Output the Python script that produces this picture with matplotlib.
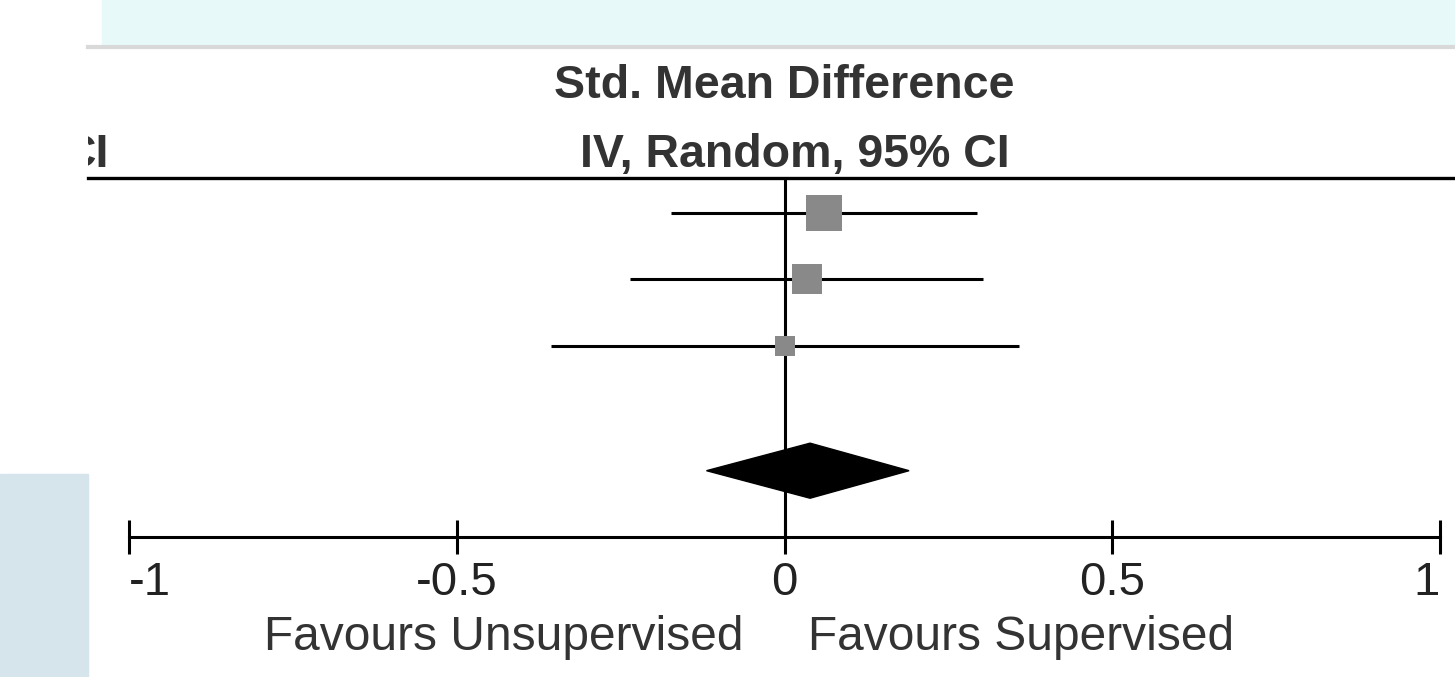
import numpy as np
import matplotlib
matplotlib.use("Agg")
import matplotlib.pyplot as plt
from matplotlib.patches import Rectangle, Polygon
from matplotlib.lines import Line2D
from matplotlib.transforms import Bbox, TransformedBbox

# study rows: std. mean difference with 95% CI, weight in %
smd = [0.060, 0.034, 0.000]
ci_low = [-0.173, -0.236, -0.356]
ci_high = [0.294, 0.303, 0.358]
weights = [51, 34, 15]

# pooled (random effects) estimate
pooled = 0.039
pooled_low = -0.119
pooled_high = 0.190

xticks = [-1, -0.5, 0, 0.5, 1]
xticklabels = ["-1", "-0.5", "0", "0.5", "1"]
header = ["Std. Mean Difference", "IV, Random, 95% CI"]
favours = ["Favours Unsupervised", "Favours Supervised"]

plt.rcParams['font.family'] = ['Liberation Sans', 'DejaVu Sans']

W, H = 1455, 677
fig = plt.figure(figsize=(W / 100, H / 100), dpi=100)

# page background bits around the cropped plot
fig.patches.append(Rectangle((102 / W, 1 - 45 / H), 1 - 102 / W, 45 / H,
                             transform=fig.transFigure, color='#e8f9fa', zorder=0))
fig.add_artist(Line2D([88 / W, 1], [1 - 47 / H] * 2, color='#d9d9d9', lw=3))
fig.patches.append(Rectangle((0, 0), 88 / W, (H - 474) / H,
                             transform=fig.transFigure, color='#d6e4ec', zorder=0))

# header rule
fig.add_artist(Line2D([88 / W, 1], [1 - 178 / H] * 2, color='black', lw=2.4))

ax = fig.add_axes([129 / W, 1 - 537 / H, (1440 - 129) / W, (537 - 178) / H])
ax.set_xlim(-1, 1)
ax.set_ylim(5.872, 0.474)
ax.patch.set_alpha(0)
for s in ['top', 'left', 'right']:
    ax.spines[s].set_visible(False)
ax.spines['bottom'].set_linewidth(2.2)
ax.set_yticks([])

rows = np.arange(1, len(smd) + 1)
pooled_row = 4.875

ax.axvline(0, color='black', lw=2.2, zorder=1)
ax.hlines(rows, ci_low, ci_high, color='black', lw=2.2, zorder=2)
for x, y, w in zip(smd, rows, weights):
    ax.plot(x, y, marker='s', ms=3.72 * np.sqrt(w), color='#898989',
            mec='#898989', mew=0, ls='none', zorder=3)

h = 0.414
diamond = Polygon([(pooled_low, pooled_row), (pooled, pooled_row - h),
                   (pooled_high, pooled_row), (pooled, pooled_row + h)],
                  closed=True, color='black', zorder=4)
ax.add_patch(diamond)

ax.set_xticks(xticks)
ax.set_xticklabels(xticklabels, fontsize=34, color='#222222')
ax.tick_params(axis='x', direction='inout', length=25, width=2.2, pad=5)
labels = ax.get_xticklabels()
labels[0].set_horizontalalignment('left')
labels[-1].set_horizontalalignment('right')

xt = ax.get_xaxis_transform()
ax.text(-0.063, -0.315, favours[0], transform=xt, ha='right', va='baseline',
        fontsize=34.5, color='#333333')
ax.text(0.036, -0.315, favours[1], transform=xt, ha='left', va='baseline',
        fontsize=34.5, color='#333333')

ax.text(0, 1.223, header[0], transform=xt, ha='center', va='baseline',
        fontsize=33.5, fontweight='bold', color='#333333')
ax.text(0.016, 1.0306, header[1], transform=xt, ha='center', va='baseline',
        fontsize=33.5, fontweight='bold', color='#333333')

# tail of the neighbouring column header, cut off by the crop
ci = fig.text(108 / W, 1 - 167 / H, "CI", ha='right', va='baseline',
              fontsize=33.5, fontweight='bold', color='#333333')
ci.set_clip_box(TransformedBbox(Bbox([[88 / W, 0], [1, 1]]), fig.transFigure))
ci.set_clip_on(True)

fig.savefig("out.png", dpi=100)
